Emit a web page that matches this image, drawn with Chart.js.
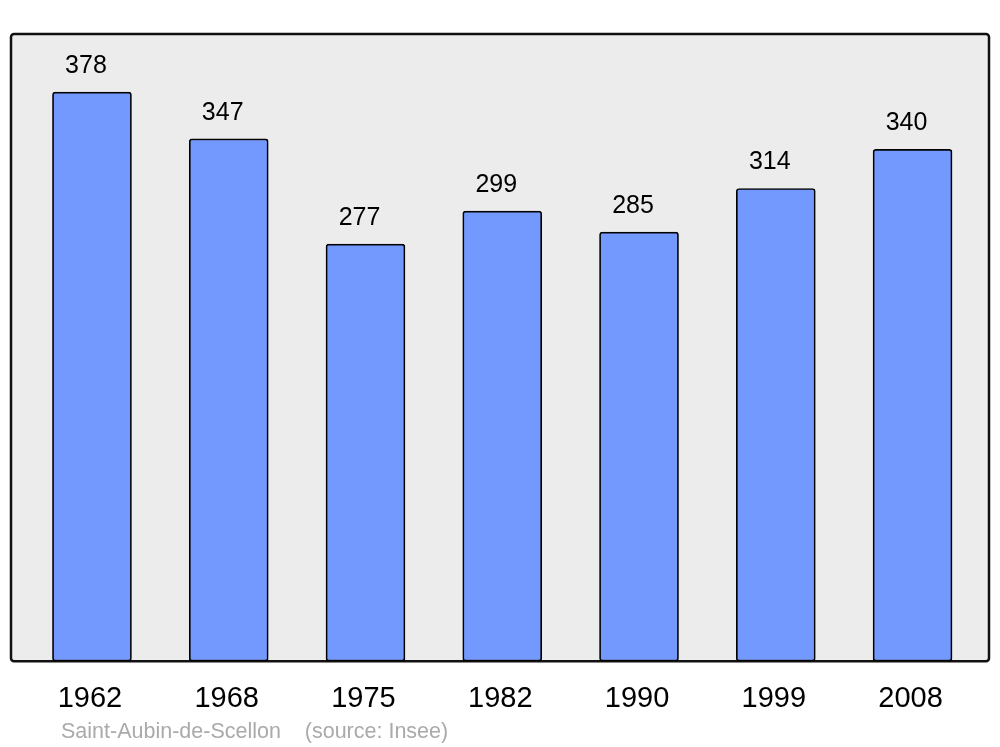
<!DOCTYPE html>
<html>
<head>
<meta charset="utf-8">
<script src="https://cdn.jsdelivr.net/npm/chart.js@4"></script>
<style>
  body { margin: 0; background: #fff; }
</style>
</head>
<body>
<canvas id="myChart" width="1000" height="747"></canvas>
<script>
// population figures
const years = ['1962', '1968', '1975', '1982', '1990', '1999', '2008'];
const population = [378, 347, 277, 299, 285, 314, 340];
const footerText = 'Saint-Aubin-de-Scellon    (source: Insee)';

// grey framed background behind the bars
const framePlugin = {
    id: 'frame',
    beforeDatasetsDraw(chart) {
        const a = chart.chartArea;
        const ctx = chart.ctx;
        ctx.save();
        ctx.beginPath();
        ctx.roundRect(a.left, a.top, a.right - a.left, a.bottom - a.top, 3);
        ctx.fillStyle = '#ececec';
        ctx.fill();
        ctx.lineWidth = 2.5;
        ctx.strokeStyle = '#111';
        ctx.stroke();
        ctx.restore();
    }
};

// value labels above bars + source line
const labelPlugin = {
    id: 'labels',
    afterDatasetsDraw(chart) {
        const ctx = chart.ctx;
        const meta = chart.getDatasetMeta(0);
        ctx.save();
        ctx.font = '25px "Liberation Sans", Arial, sans-serif';
        ctx.fillStyle = '#000';
        ctx.textAlign = 'center';
        ctx.textBaseline = 'alphabetic';
        meta.data.forEach((bar, i) => {
            ctx.fillText(String(population[i]), bar.x - 6, bar.y - 19);
        });
        ctx.font = '21.5px "Liberation Sans", Arial, sans-serif';
        ctx.fillStyle = '#aaaaaa';
        ctx.textAlign = 'left';
        ctx.fillText(footerText, chart.chartArea.left + 50, chart.height - 9);
        ctx.restore();
    }
};

const ctx = document.getElementById('myChart').getContext('2d');
const chart = new Chart(ctx, {
    type: 'bar',
    data: {
        datasets: [{
            data: population.map((v, i) => ({ x: i, y: v })),
            backgroundColor: '#7399ff',
            borderColor: '#000',
            borderWidth: 1.7,
            borderRadius: 3,
            borderSkipped: false,
            barThickness: 79
        }]
    },
    options: {
        responsive: false,
        animation: false,
        layout: { padding: { left: 11, right: 11, top: 34, bottom: 11 } },
        scales: {
            x: {
                type: 'linear',
                offset: false,
                min: -0.592,
                max: 6.559,
                grid: { display: false, drawTicks: false, offset: false },
                border: { display: false },
                afterBuildTicks: axis => {
                    axis.ticks = years.map((y, i) => ({ value: i }));
                },
                ticks: {
                    padding: 20,
                    labelOffset: -2,
                    color: '#000',
                    font: { family: '"Liberation Sans", Arial, sans-serif', size: 29 },
                    callback: v => years[v]
                }
            },
            y: {
                display: false,
                min: 0,
                max: 416.6
            }
        },
        plugins: {
            legend: { display: false },
            tooltip: { enabled: false }
        }
    },
    plugins: [framePlugin, labelPlugin]
});
</script>
</body>
</html>
